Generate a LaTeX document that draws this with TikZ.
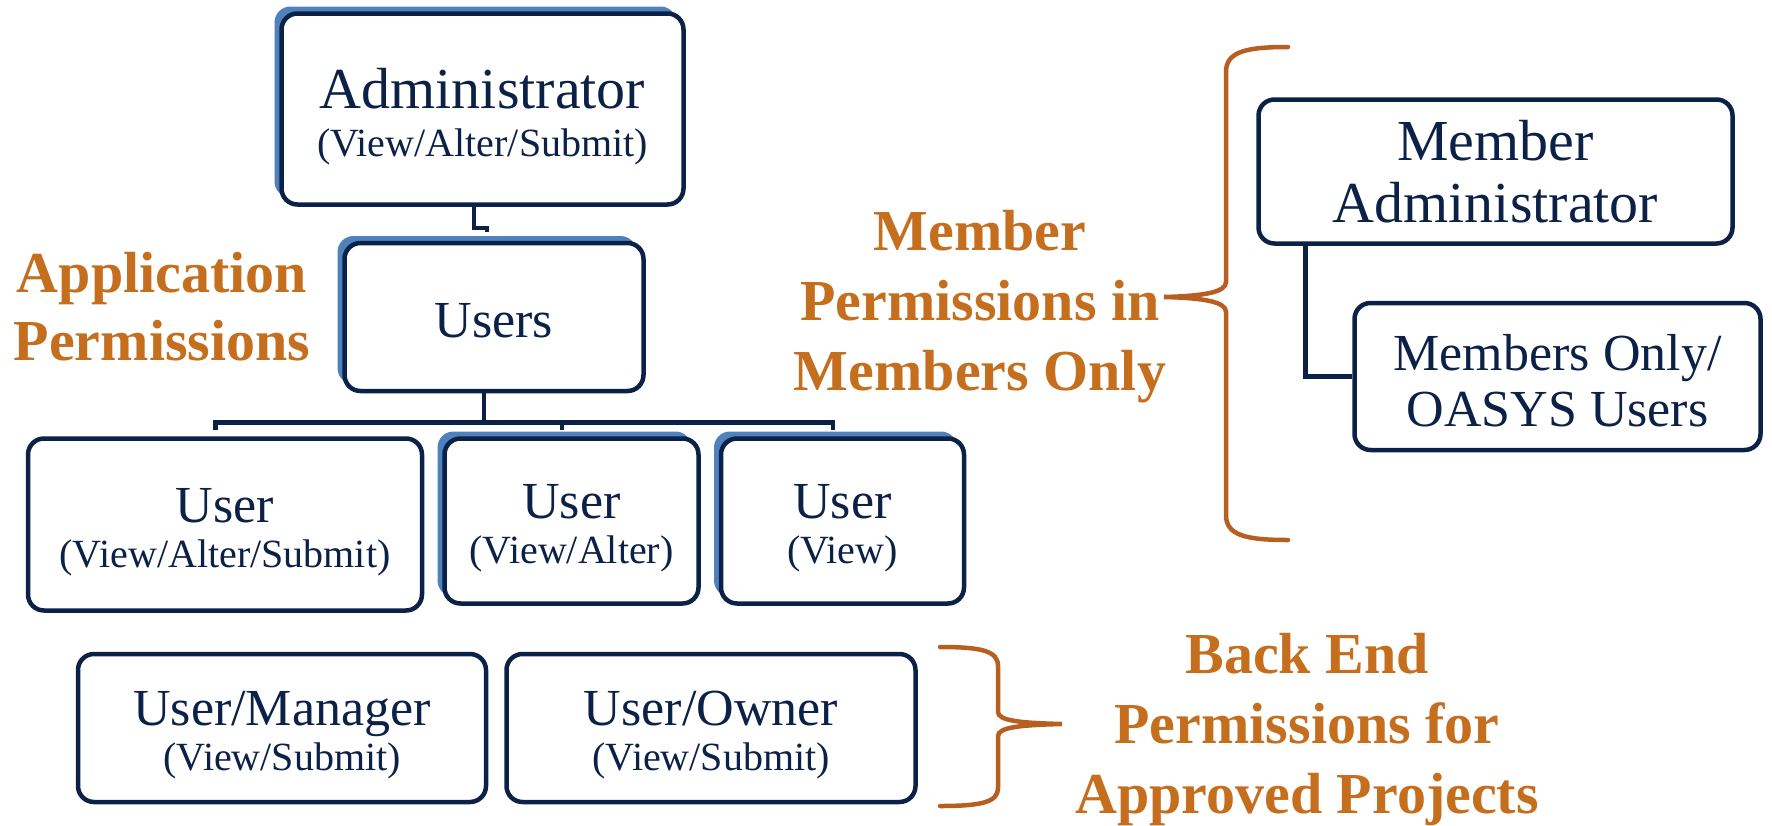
\documentclass[tikz,border=0pt]{standalone}
\usepackage{fontspec}
\setmainfont{Liberation Serif}
\usetikzlibrary{positioning,calc,shadows}
\definecolor{navy}{HTML}{0C2148}
\definecolor{rust}{HTML}{C46E1E}
\definecolor{bracecol}{HTML}{B85E20}
\definecolor{steel}{HTML}{4F81BD}
\tikzstyle{role} = [rectangle, draw=navy, line width=4.5pt, fill=white, %
   rounded corners=16pt, text=navy, align=center, inner sep=0pt, %
   font=\fontsize{52}{45}\selectfont]
\tikzstyle{raised} = [drop shadow={shadow xshift=-7pt, shadow yshift=7pt, %
   fill=steel, opacity=1}]
\tikzstyle{note} = [text=rust, align=center, font=\fontsize{58}{70}\selectfont\bfseries]
\tikzstyle{link} = [draw=navy, line width=4.5pt]
\tikzstyle{curly} = [draw=bracecol, line width=4.5pt, line cap=round]
\newcommand{\perms}[1]{{\fontsize{40}{44}\selectfont #1}}
\newcommand{\roletext}[2]{\rule{0pt}{0.95em}#1\\\perms{#2}}

\begin{document}
\begin{tikzpicture}
   \useasboundingbox (0,0) rectangle (1772pt,-825pt);

% Application tree %%%%%%%%%%%%%%%%%%%%%%%%%%%%%%%%%%%%%%%%%%%%%%%%%%%%
   \node[role, raised, minimum width=402pt, minimum height=191pt, %
      font=\fontsize{58}{48}\selectfont] (admin) at (482.5pt,-109pt){%
      \roletext{Administrator}{(View/Alter/Submit)}};

   \node[role, raised, minimum width=299pt, minimum height=148pt, %
      below=34pt of admin, xshift=11.5pt] (users){\rule{0pt}{0.8em}Users};

   \node[role, raised, minimum width=254pt, minimum height=165pt, %
      below=43pt of users, xshift=77.5pt] (user2){%
      \roletext{User}{(View/Alter)}};
   \node[role, minimum width=394pt, minimum height=172pt, %
      left=18pt of user2, yshift=-3.5pt] (user1){%
      \roletext{User}{(View/Alter/Submit)}};
   \node[role, raised, minimum width=243pt, minimum height=165pt, %
      right=18pt of user2] (user3){%
      \roletext{User}{(View)}};

% Back end roles %%%%%%%%%%%%%%%%%%%%%%%%%%%%%%%%%%%%%%%%%%%%%%%%%%%%%%
   \node[role, minimum width=408pt, minimum height=148pt, %
      below=39pt of user1, xshift=57pt] (manager){%
      \roletext{User/Manager}{(View/Submit)}};
   \node[role, minimum width=409pt, minimum height=148pt, %
      right=16pt of manager] (owner){%
      \roletext{User/Owner}{(View/Submit)}};

% Members Only tree %%%%%%%%%%%%%%%%%%%%%%%%%%%%%%%%%%%%%%%%%%%%%%%%%%%
   \node[role, minimum width=474pt, minimum height=144pt, %
      font=\fontsize{58}{62}\selectfont] (memadmin) at (1495.5pt,-171.5pt){%
      Member\\Administrator};
   \node[role, minimum width=406pt, minimum height=147pt, %
      font=\fontsize{52}{56}\selectfont, below=55pt of memadmin, xshift=62pt] (memusers){%
      \rule{0pt}{0.85em}Members Only/\\OASYS Users};

% Labels %%%%%%%%%%%%%%%%%%%%%%%%%%%%%%%%%%%%%%%%%%%%%%%%%%%%%%%%%%%%%%
   \node[note, font=\fontsize{58}{68}\selectfont\bfseries] (applabel) at (162pt,-307pt){%
      Application\\Permissions};
   \node[note] (memlabel) at (980pt,-307pt){Member\\Permissions in\\Members Only};
   \node[note] (backlabel) at (1307pt,-730pt){Back End\\Permissions for\\Approved Projects};

   % Draw edges
   \coordinate (jog) at ($(users.north)+(-7pt,9pt)$);
   \path [link] ([xshift=-8.5pt]admin.south) |- ([yshift=4pt]jog) -- (jog);
   \path [link] ([xshift=-10pt]users.south) -- ++(0,-29pt) coordinate (bar);
   \path [link] ([xshift=-9.5pt,yshift=6pt]user1.north) |- (bar) -| ([xshift=-9.5pt,yshift=6pt]user3.north);
   \path [link] ([xshift=-9.5pt,yshift=6pt]user2.north) -- ++(0,8pt);
   \path [link] ([xshift=49pt]memadmin.south west) |- (memusers.west);

   % Braces
   \path [curly] (1288pt,-47pt) .. controls (1245pt,-47pt) and (1226pt,-52pt) .. (1226pt,-72pt)
      -- (1226pt,-282pt) .. controls (1226pt,-292pt) and (1205pt,-296pt) .. (1164pt,-297pt)
      .. controls (1205pt,-298pt) and (1226pt,-302pt) .. (1226pt,-312pt)
      -- (1226pt,-515pt) .. controls (1226pt,-535pt) and (1245pt,-540pt) .. (1288pt,-540pt);
   \path [curly] (940pt,-647pt) .. controls (982pt,-647pt) and (998pt,-651pt) .. (998pt,-666pt)
      -- (998pt,-712pt) .. controls (998pt,-721pt) and (1022pt,-723pt) .. (1062pt,-724pt)
      .. controls (1022pt,-725pt) and (998pt,-727pt) .. (998pt,-736pt)
      -- (998pt,-788pt) .. controls (998pt,-802pt) and (982pt,-806pt) .. (940pt,-806pt);

\end{tikzpicture}
\end{document}
